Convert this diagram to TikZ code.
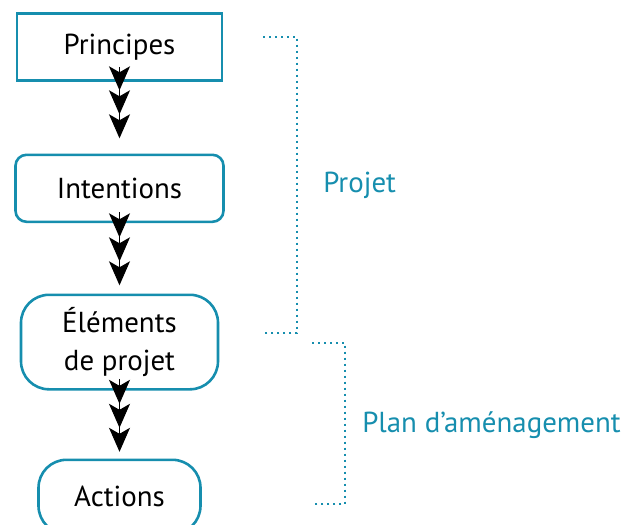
\documentclass[tikz,border=0pt]{standalone}
\usepackage{fontspec}
\setmainfont{PT Sans}
\usepackage{tikz}
\usetikzlibrary{arrows.meta}
\definecolor{planblue}{RGB}{22,142,174}

\begin{document}
\begin{tikzpicture}[
  x=1bp, y=-1bp,
  font=\fontsize{29}{38}\selectfont,
  every matrix/.style={ampersand replacement=\&,row sep=70.4bp,inner sep=0pt,outer sep=0pt},
  block/.style={draw=planblue,line width=2.6bp,inner sep=0pt,minimum height=67bp,align=center},
  leads/.style={-{Stealth[length=24bp,width=21bp,inset=6bp]Stealth[length=24bp,width=21bp,inset=6bp]Stealth[length=24bp,width=21bp,inset=6bp]},line width=1bp},
  bracket/.style={planblue,line width=2bp,dash pattern=on 2bp off 4bp},
  brlabel/.style={planblue,anchor=west}]

  \useasboundingbox (0,0) rectangle (629,525);

  % The chain of steps, one column
  \matrix (chain) at (119.5,12) [anchor=north] {
    \node[block,minimum width=205bp] (principes) {Principes};\\[1.5bp]
    \node[block,rounded corners=11bp,minimum width=208bp] (intentions) {Intentions};\\
    \node[block,rounded corners=28bp,minimum width=197bp,minimum height=94.5bp] (elements) {Éléments\\de projet};\\[-2.5bp]
    \node[block,rounded corners=28bp,minimum width=162bp,minimum height=74bp] (actions) {Actions};\\
  };

  % Arrows between the steps
  \draw[leads,shorten <=-13.5bp,shorten >=16.5bp] (principes) -- (intentions);
  \draw[leads,shorten <=-9.5bp,shorten >=9.5bp] (intentions) -- (elements);
  \draw[leads,shorten <=-10.5bp,shorten >=8bp] (elements) -- (actions);

  % Brackets and their labels
  \draw[bracket] (263,36.7) -- (297,36.7) -- node[brlabel,right=22bp] {Projet} (297,333) -- (263,333);
  \draw[bracket] (312,342.7) -- (345,342.7) -- node[brlabel,right=13bp,yshift=-2bp] {Plan d'aménagement} (345,504) -- (312,504);
\end{tikzpicture}
\end{document}
